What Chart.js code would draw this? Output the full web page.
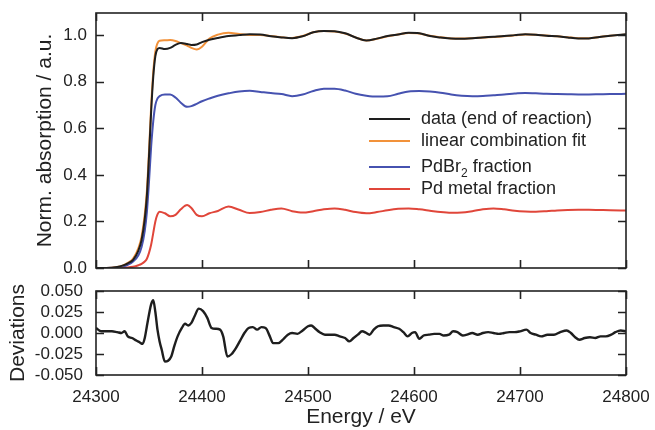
<!DOCTYPE html>
<html>
<head>
<meta charset="utf-8">
<script src="https://cdn.jsdelivr.net/npm/chart.js@4.4.1/dist/chart.umd.min.js"></script>
<style>
    html, body { margin: 0; padding: 0; background: #ffffff; }
    #wrap { position: relative; width: 655px; height: 430px; }
    #topPanel { position: absolute; left: 0; top: 0; width: 655px; height: 280px; }
    #botPanel { position: absolute; left: 0; top: 280px; width: 655px; height: 150px; }
</style>
</head>
<body>
<div id="wrap">
    <div id="topPanel"><canvas id="xasChart"></canvas></div>
    <div id="botPanel"><canvas id="devChart"></canvas></div>
</div>
<script>
// Energy grid of the top panel (eV)
const energy = [24300, 24310, 24320, 24325, 24330, 24335, 24340, 24343, 24346, 24348,
    24350, 24352, 24354, 24356, 24358, 24360, 24365, 24370, 24375, 24380,
    24386, 24390, 24395, 24400, 24407, 24415, 24425, 24435, 24445, 24455,
    24465, 24475, 24485, 24495, 24505, 24515, 24525, 24535, 24545, 24555,
    24565, 24575, 24585, 24595, 24605, 24615, 24625, 24635, 24645, 24655,
    24665, 24675, 24685, 24695, 24705, 24715, 24725, 24735, 24745, 24755,
    24765, 24775, 24785, 24800];

// data (end of reaction)
const dataValues = [0.000, 0.000, 0.004, 0.010, 0.020, 0.035, 0.075, 0.120, 0.210, 0.310,
    0.480, 0.670, 0.820, 0.910, 0.940, 0.945, 0.940, 0.945, 0.958, 0.966,
    0.962, 0.958, 0.960, 0.970, 0.980, 0.988, 0.996, 1.000, 1.004, 1.003,
    0.995, 0.990, 0.987, 0.995, 1.012, 1.018, 1.017, 1.008, 0.990, 0.977,
    0.985, 0.996, 1.003, 1.010, 1.008, 0.996, 0.990, 0.985, 0.984, 0.987,
    0.990, 0.993, 0.996, 1.000, 1.004, 1.002, 0.997, 0.995, 0.990, 0.986,
    0.986, 0.992, 0.997, 1.004];

// linear combination fit
const fitValues = [0.000, 0.000, 0.004, 0.010, 0.022, 0.040, 0.085, 0.135, 0.230, 0.330,
    0.500, 0.690, 0.840, 0.930, 0.965, 0.976, 0.978, 0.979, 0.975, 0.966,
    0.955, 0.945, 0.938, 0.950, 0.985, 1.002, 1.010, 1.005, 1.001, 1.000,
    0.996, 0.991, 0.988, 0.996, 1.012, 1.018, 1.016, 1.007, 0.990, 0.977,
    0.984, 0.995, 1.003, 1.009, 1.007, 0.997, 0.991, 0.986, 0.985, 0.987,
    0.990, 0.992, 0.995, 0.999, 1.003, 1.002, 0.998, 0.995, 0.991, 0.987,
    0.987, 0.992, 0.997, 1.003];

// PdBr2 fraction
const pdbr2Values = [0.000, 0.000, 0.002, 0.006, 0.014, 0.028, 0.055, 0.090, 0.160, 0.240,
    0.370, 0.520, 0.630, 0.700, 0.728, 0.738, 0.745, 0.745, 0.732, 0.710,
    0.692, 0.695, 0.705, 0.716, 0.728, 0.740, 0.750, 0.758, 0.761, 0.756,
    0.751, 0.747, 0.738, 0.745, 0.760, 0.770, 0.770, 0.762, 0.748, 0.740,
    0.736, 0.737, 0.748, 0.758, 0.760, 0.758, 0.753, 0.745, 0.740, 0.738,
    0.739, 0.742, 0.745, 0.749, 0.752, 0.750, 0.748, 0.747, 0.746, 0.745,
    0.745, 0.746, 0.747, 0.748];

// Pd metal fraction
const pdMetalValues = [0.000, 0.000, 0.000, 0.001, 0.002, 0.005, 0.012, 0.018, 0.028, 0.040,
    0.065, 0.100, 0.150, 0.200, 0.230, 0.242, 0.235, 0.222, 0.228, 0.252,
    0.270, 0.258, 0.228, 0.222, 0.235, 0.245, 0.264, 0.250, 0.236, 0.240,
    0.250, 0.256, 0.244, 0.238, 0.244, 0.252, 0.256, 0.250, 0.240, 0.235,
    0.240, 0.248, 0.254, 0.256, 0.252, 0.246, 0.240, 0.237, 0.238, 0.244,
    0.252, 0.256, 0.252, 0.246, 0.243, 0.242, 0.244, 0.247, 0.249, 0.250,
    0.250, 0.249, 0.248, 0.247];

// Deviations panel
const devEnergy = [24300, 24305, 24310, 24315, 24320, 24324, 24327, 24330, 24334, 24338,
    24341, 24344, 24346, 24348, 24350, 24352, 24354, 24356, 24358, 24360,
    24362, 24365, 24368, 24371, 24374, 24377, 24381, 24384, 24387, 24390,
    24393, 24397, 24401, 24405, 24409, 24413, 24417, 24420, 24424, 24428,
    24432, 24436, 24440, 24444, 24448, 24452, 24456, 24460, 24464, 24467,
    24472, 24477, 24481, 24485, 24490, 24495, 24500, 24503, 24507, 24511,
    24516, 24521, 24525, 24530, 24535, 24539, 24543, 24547, 24551, 24555,
    24558, 24562, 24566, 24571, 24576, 24581, 24586, 24590, 24594, 24598,
    24601, 24605, 24609, 24614, 24619, 24624, 24628, 24633, 24637, 24641,
    24646, 24650, 24655, 24660, 24665, 24670, 24675, 24680, 24685, 24690,
    24695, 24700, 24706, 24710, 24715, 24720, 24726, 24732, 24738, 24744,
    24748, 24752, 24756, 24761, 24766, 24771, 24776, 24781, 24786, 24790,
    24795, 24800];
const devValues = [0.006, 0.002, 0.002, 0.002, 0.001, 0.000, 0.002, -0.004, -0.006, -0.009,
    -0.011, -0.013, -0.006, 0.008, 0.022, 0.034, 0.039, 0.025, 0.004, -0.010,
    -0.020, -0.034, -0.033, -0.028, -0.015, -0.004, 0.006, 0.011, 0.009, 0.012,
    0.020, 0.029, 0.026, 0.018, 0.006, 0.005, 0.004, -0.004, -0.028, -0.025,
    -0.018, -0.009, 0.000, 0.006, 0.007, 0.004, 0.007, 0.006, -0.004, -0.012,
    -0.012, -0.007, -0.002, 0.000, -0.001, 0.003, 0.008, 0.009, 0.005, 0.001,
    -0.002, -0.002, -0.002, -0.004, -0.006, -0.010, -0.006, -0.002, 0.002, 0.000,
    -0.002, 0.004, 0.008, 0.009, 0.009, 0.007, 0.005, 0.001, -0.004, 0.000,
    0.001, -0.007, -0.003, -0.002, -0.001, -0.001, -0.003, -0.002, 0.002, 0.001,
    -0.003, -0.002, 0.000, -0.002, 0.000, 0.001, 0.000, -0.001, 0.000, 0.001,
    0.001, 0.002, 0.004, 0.000, -0.002, -0.004, -0.002, -0.002, 0.001, 0.003,
    0.000, -0.005, -0.008, -0.006, -0.005, -0.006, -0.004, -0.004, -0.002, 0.001,
    0.003, 0.002];

// Tick labels
const xTicks = [24300, 24400, 24500, 24600, 24700, 24800];
const yTicksTop = [0.0, 0.2, 0.4, 0.6, 0.8, 1.0];
const yTicksDev = [-0.050, -0.025, 0.000, 0.025, 0.050];

const legendLabels = ['data (end of reaction)', 'linear combination fit', 'PdBr\u2082 fraction', 'Pd metal fraction'];

const colors = {
    data: '#1e1e1e',
    fit: '#f2923a',
    pdbr2: '#4652b0',
    pdMetal: '#e0463a',
    axis: '#222222'
};
const FONT = '"Liberation Sans", Arial, Helvetica, sans-serif';

Chart.defaults.font.family = FONT;
Chart.defaults.color = colors.axis;
Chart.defaults.animation = false;

function pairs(xs, ys) {
    return xs.map((x, i) => ({ x: x, y: ys[i] }));
}

// keep label overflow from moving the plot box
function noOverflow(s) {
    s.paddingTop = 0; s.paddingBottom = 0;
    s.paddingLeft = 0; s.paddingRight = 0;
}

// Frame box with inward ticks on all four sides
const framePlugin = {
    id: 'frame',
    afterDatasetsDraw(chart, args, opts) {
        const { ctx, chartArea: a, scales } = chart;
        const len = 8;
        ctx.save();
        ctx.strokeStyle = colors.axis;
        ctx.lineWidth = 1.6;
        ctx.strokeRect(a.left, a.top, a.right - a.left, a.bottom - a.top);
        ctx.beginPath();
        xTicks.forEach(v => {
            const px = Math.round(scales.x.getPixelForValue(v)) + 0.5;
            ctx.moveTo(px, a.bottom); ctx.lineTo(px, a.bottom - len);
            ctx.moveTo(px, a.top); ctx.lineTo(px, a.top + len);
        });
        opts.yTicks.forEach(v => {
            const py = Math.round(scales.y.getPixelForValue(v)) + 0.5;
            ctx.moveTo(a.left, py); ctx.lineTo(a.left + len, py);
            ctx.moveTo(a.right, py); ctx.lineTo(a.right - len, py);
        });
        ctx.stroke();
        ctx.restore();
    }
};

// Legend drawn inside the top panel, PdBr2 with a subscript
const legendPlugin = {
    id: 'xasLegend',
    afterDatasetsDraw(chart) {
        const ctx = chart.ctx;
        const rows = [119, 141, 167, 189];
        ctx.save();
        ctx.textBaseline = 'middle';
        ctx.textAlign = 'left';
        chart.data.datasets.forEach((ds, i) => {
            const y = rows[i];
            ctx.strokeStyle = ds.borderColor;
            ctx.lineWidth = 2;
            ctx.beginPath();
            ctx.moveTo(369, y); ctx.lineTo(410, y);
            ctx.stroke();
            ctx.fillStyle = colors.axis;
            const label = legendLabels[i];
            const sub = label.indexOf('\u2082');
            let x = 421;
            if (sub >= 0) {
                const head = label.slice(0, sub);
                const tail = label.slice(sub + 1);
                ctx.font = '18px ' + FONT;
                ctx.fillText(head, x, y);
                x += ctx.measureText(head).width;
                ctx.font = '12px ' + FONT;
                ctx.fillText('2', x, y + 7);
                x += ctx.measureText('2').width;
                ctx.font = '18px ' + FONT;
                ctx.fillText(tail, x, y);
            } else {
                ctx.font = '18px ' + FONT;
                ctx.fillText(label, x, y);
            }
        });
        ctx.restore();
    }
};

// Top panel: normalised absorption
new Chart(document.getElementById('xasChart'), {
    type: 'line',
    data: {
        datasets: [
            { label: legendLabels[0], data: pairs(energy, dataValues), borderColor: colors.data },
            { label: legendLabels[1], data: pairs(energy, fitValues), borderColor: colors.fit },
            { label: legendLabels[2], data: pairs(energy, pdbr2Values), borderColor: colors.pdbr2 },
            { label: legendLabels[3], data: pairs(energy, pdMetalValues), borderColor: colors.pdMetal }
        ]
    },
    options: {
        responsive: true,
        maintainAspectRatio: false,
        layout: { padding: { left: 0, right: 29, top: 13, bottom: 12 } },
        elements: {
            point: { radius: 0 },
            line: { borderWidth: 2, cubicInterpolationMode: 'monotone', fill: false }
        },
        plugins: {
            legend: { display: false },
            tooltip: { enabled: false },
            frame: { yTicks: yTicksTop }
        },
        scales: {
            x: { type: 'linear', min: 24300, max: 24800, display: false },
            y: {
                type: 'linear', min: 0, max: 1.095,
                grid: { display: false, drawTicks: false },
                border: { display: false },
                afterBuildTicks: s => { s.ticks = yTicksTop.map(v => ({ value: v })); },
                afterFit: s => { s.width = 96; noOverflow(s); },
                ticks: { padding: 9, autoSkip: false, font: { size: 17 }, color: colors.axis, callback: v => v.toFixed(1) },
                title: { display: true, text: 'Norm. absorption / a.u.', font: { size: 21 }, color: colors.axis, padding: { top: 33, bottom: 0 } }
            }
        }
    },
    plugins: [framePlugin, legendPlugin]
});

// Bottom panel: deviations
new Chart(document.getElementById('devChart'), {
    type: 'line',
    data: {
        datasets: [
            { label: 'Deviations', data: pairs(devEnergy, devValues), borderColor: colors.data, borderWidth: 2.4 }
        ]
    },
    options: {
        responsive: true,
        maintainAspectRatio: false,
        layout: { padding: { left: 0, right: 29, top: 11, bottom: 0 } },
        elements: {
            point: { radius: 0 },
            line: { cubicInterpolationMode: 'monotone', fill: false }
        },
        plugins: {
            legend: { display: false },
            tooltip: { enabled: false },
            frame: { yTicks: yTicksDev }
        },
        scales: {
            x: {
                type: 'linear', min: 24300, max: 24800,
                grid: { display: false, drawTicks: false },
                border: { display: false },
                afterBuildTicks: s => { s.ticks = xTicks.map(v => ({ value: v })); },
                afterFit: s => { s.height = 55; noOverflow(s); },
                ticks: { padding: 12, autoSkip: false, maxRotation: 0, font: { size: 17 }, color: colors.axis, callback: v => String(v) },
                title: { display: true, text: 'Energy / eV', font: { size: 21 }, color: colors.axis, padding: { top: 0, bottom: 0 } }
            },
            y: {
                type: 'linear', min: -0.05, max: 0.05,
                grid: { display: false, drawTicks: false },
                border: { display: false },
                afterBuildTicks: s => { s.ticks = yTicksDev.map(v => ({ value: v })); },
                afterFit: s => { s.width = 96; noOverflow(s); },
                ticks: { padding: 13, autoSkip: false, font: { size: 17 }, color: colors.axis, callback: v => v.toFixed(3) },
                title: { display: true, text: 'Deviations', font: { size: 21 }, color: colors.axis, padding: { top: 6, bottom: 0 } }
            }
        }
    },
    plugins: [framePlugin]
});
</script>
</body>
</html>
